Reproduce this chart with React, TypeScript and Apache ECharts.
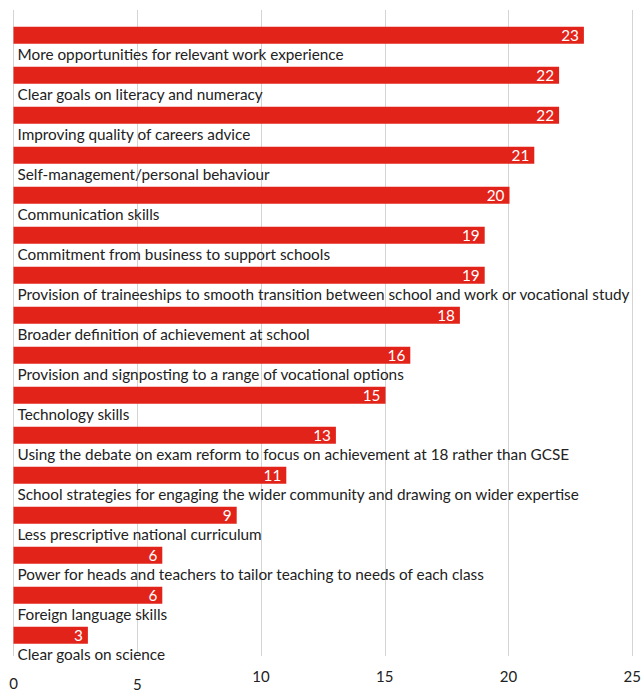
import React, { useEffect, useRef } from "react";
import * as echarts from "echarts";

const categories = [
  "More opportunities for relevant work experience",
  "Clear goals on literacy and numeracy",
  "Improving quality of careers advice",
  "Self-management/personal behaviour",
  "Communication skills",
  "Commitment from business to support schools",
  "Provision of traineeships to smooth transition between school and work or vocational study",
  "Broader definition of achievement at school",
  "Provision and signposting to a range of vocational options",
  "Technology skills",
  "Using the debate on exam reform to focus on achievement at 18 rather than GCSE",
  "School strategies for engaging the wider community and drawing on wider expertise",
  "Less prescriptive national curriculum",
  "Power for heads and teachers to tailor teaching to needs of each class",
  "Foreign language skills",
  "Clear goals on science",
];
const values = [23, 22, 22, 21, 20, 19, 19, 18, 16, 15, 13, 11, 9, 6, 6, 3];
const xTicks = [0, 5, 10, 15, 20, 25];

const FONT = "Lato";
const FS = 15.3;

export default function App() {
  const ref = useRef<HTMLDivElement>(null);
  useEffect(() => {
    if (!ref.current) return;
    const chart = echarts.init(ref.current, null, { renderer: "svg" });
    chart.setOption({
      animation: false,
      grid: [
        { left: 13.5, right: 10.5, top: 15.35, height: 640 },
        { left: 13.5, right: 10.5, top: 10, height: 654 },
      ],
      xAxis: [
        { gridIndex: 0, type: "value", min: 0, max: 25, interval: 5, show: false },
        {
          gridIndex: 1,
          type: "value",
          min: xTicks[0],
          max: xTicks[xTicks.length - 1],
          interval: 5,
          axisLine: { show: false },
          axisTick: { show: false },
          splitLine: { show: true, lineStyle: { color: "#d4d4d4", width: 1 } },
          axisLabel: {
            margin: 12,
            color: "#222",
            fontFamily: FONT,
            fontSize: 15,
            formatter: (v: number) => (v === 0 ? "{a|0}" : v === 5 ? "{b|5}" : String(v)),
            rich: {
              a: { padding: [7, 0, 0, 0], fontFamily: FONT, fontSize: 15, color: "#222" },
              b: { padding: [8, 0, 0, 0], fontFamily: FONT, fontSize: 15, color: "#222" },
            },
          },
        },
      ],
      yAxis: [
        { gridIndex: 0, type: "category", data: categories, inverse: true, show: false },
        { gridIndex: 1, type: "category", data: categories, inverse: true, show: false },
      ],
      series: [
        {
          type: "bar",
          xAxisIndex: 0,
          yAxisIndex: 0,
          data: values,
          barWidth: 17,
          itemStyle: { color: "#e2231a" },
          label: {
            show: true,
            position: "insideRight",
            distance: 5,
            color: "#fff",
            fontFamily: FONT,
            fontSize: FS,
          },
        },
        {
          type: "bar",
          xAxisIndex: 0,
          yAxisIndex: 0,
          data: values,
          barWidth: 17,
          barGap: "-100%",
          itemStyle: { color: "rgba(0,0,0,0)" },
          label: {
            show: true,
            position: [4, 27],
            verticalAlign: "middle",
            align: "left",
            color: "#222",
            fontFamily: FONT,
            fontSize: FS,
            formatter: (p: any) => categories[p.dataIndex],
          },
        },
      ],
    });
    return () => chart.dispose();
  }, []);
  return <div ref={ref} style={{ width: 644, height: 691, position: "absolute", left: 0, top: 0 }} />;
}
